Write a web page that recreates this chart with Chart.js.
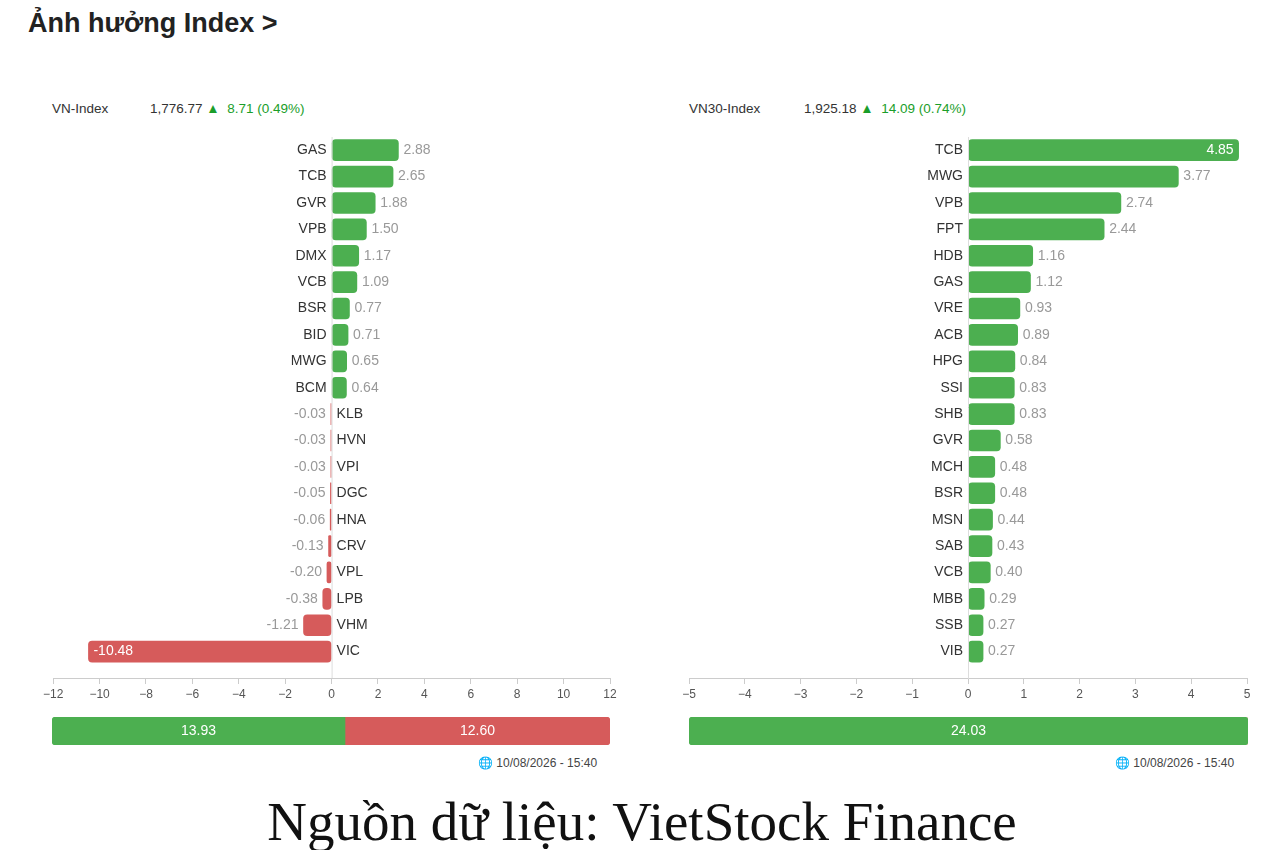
<!DOCTYPE html>
<html>
<head>
<meta charset="utf-8">
<script src="https://cdn.jsdelivr.net/npm/chart.js@4"></script>
<style>
  body { margin: 0; background: #fff; font-family: "Liberation Sans", Arial, sans-serif; }
  .abs { position: absolute; }
  h1 { position: absolute; left: 28px; top: 8px; margin: 0; font-size: 27px; font-weight: bold; color: #222; }
  .hdr { font-size: 13.5px; color: #333; }
  .up { color: #1a9e2a; }
  .stamp { font-size: 12px; color: #444; }
  .caption { position: absolute; left: 0; width: 1284px; top: 790px; text-align: center;
    font-family: "Liberation Serif", "Times New Roman", serif; font-size: 55px; color: #111; }
</style>
</head>
<body>
<h1>Ảnh hưởng Index &gt;</h1>

<div class="abs hdr" style="left:52px;top:101px">VN-Index</div>
<div class="abs hdr" style="left:150px;top:101px">1,776.77 <span class="up">▲</span>&nbsp; <span class="up">8.71 (0.49%)</span></div>
<div class="abs hdr" style="left:689px;top:101px">VN30-Index</div>
<div class="abs hdr" style="left:804px;top:101px">1,925.18 <span class="up">▲</span>&nbsp; <span class="up">14.09 (0.74%)</span></div>

<div class="abs" style="left:40px;top:137px;width:582px;height:571px"><canvas id="left"></canvas></div>
<div class="abs" style="left:677px;top:137px;width:582px;height:571px"><canvas id="right"></canvas></div>

<div class="abs" style="left:52px;top:717px;width:558px;height:28px"><canvas id="sumLeft"></canvas></div>
<div class="abs" style="left:689px;top:717px;width:559px;height:28px"><canvas id="sumRight"></canvas></div>

<div class="abs stamp" style="left:478px;top:756px">🌐 10/08/2026 - 15:40</div>
<div class="abs stamp" style="left:1115px;top:756px">🌐 10/08/2026 - 15:40</div>

<div class="caption">Nguồn dữ liệu: VietStock Finance</div>

<script>
const vnTickers = ['GAS','TCB','GVR','VPB','DMX','VCB','BSR','BID','MWG','BCM','KLB','HVN','VPI','DGC','HNA','CRV','VPL','LPB','VHM','VIC'];
const vnValues = [2.88, 2.65, 1.88, 1.50, 1.17, 1.09, 0.77, 0.71, 0.65, 0.64, -0.03, -0.03, -0.03, -0.05, -0.06, -0.13, -0.20, -0.38, -1.21, -10.48];
const vn30Tickers = ['TCB','MWG','VPB','FPT','HDB','GAS','VRE','ACB','HPG','SSI','SHB','GVR','MCH','BSR','MSN','SAB','VCB','MBB','SSB','VIB'];
const vn30Values = [4.85, 3.77, 2.74, 2.44, 1.16, 1.12, 0.93, 0.89, 0.84, 0.83, 0.83, 0.58, 0.48, 0.48, 0.44, 0.43, 0.40, 0.29, 0.27, 0.27];
const vnSummary = [13.93, 12.60];   // positive, negative
const vn30Summary = [24.03, 0];

const GREEN = '#4caf50', RED = '#d65b5b';
const FONT = '"Liberation Sans", Arial, sans-serif';

// draws ticker and value labels next to each bar
const labelPlugin = {
  id: 'barLabels',
  afterDatasetsDraw(chart) {
    const ctx = chart.ctx;
    const meta = chart.getDatasetMeta(0);
    const tickers = chart.data.datasets[0].tickers;
    const zero = chart.scales.x.getPixelForValue(0);
    const area = chart.chartArea;
    ctx.save();
    ctx.strokeStyle = '#ddd';
    ctx.lineWidth = 1;
    ctx.beginPath(); ctx.moveTo(zero + 0.5, area.top); ctx.lineTo(zero + 0.5, area.bottom); ctx.stroke();
    ctx.font = '14px ' + FONT;
    ctx.textBaseline = 'middle';
    meta.data.forEach((bar, i) => {
      const v = chart.data.datasets[0].data[i].x;
      const txt = v.toFixed(2);
      const w = ctx.measureText(txt).width;
      if (v >= 0) {
        ctx.fillStyle = '#333'; ctx.textAlign = 'right';
        ctx.fillText(tickers[i], zero - 5, bar.y);
        if (bar.x + 6 + w > area.right) {
          ctx.fillStyle = '#fff'; ctx.textAlign = 'right';
          ctx.fillText(txt, bar.x - 5, bar.y);
        } else {
          ctx.fillStyle = '#999'; ctx.textAlign = 'left';
          ctx.fillText(txt, bar.x + 5, bar.y);
        }
      } else {
        ctx.fillStyle = '#333'; ctx.textAlign = 'left';
        ctx.fillText(tickers[i], zero + 5, bar.y);
        if (zero - bar.x > w + 40) {
          ctx.fillStyle = '#fff'; ctx.textAlign = 'left';
          ctx.fillText(txt, bar.x + 5, bar.y);
        } else {
          ctx.fillStyle = '#999'; ctx.textAlign = 'right';
          ctx.fillText(txt, bar.x - 5, bar.y);
        }
      }
    });
    ctx.restore();
  }
};

function makeChart(id, tickers, values, lim) {
  new Chart(document.getElementById(id), {
    type: 'bar',
    data: {
      datasets: [{
        tickers: tickers,
        data: values.map((v, i) => ({ x: v, y: i })),
        backgroundColor: values.map(v => v >= 0 ? GREEN : RED),
        borderRadius: 4,
        borderSkipped: false,
        barThickness: 21
      }]
    },
    options: {
      indexAxis: 'y',
      responsive: true,
      maintainAspectRatio: false,
      animation: false,
      layout: { padding: { left: 12, right: 12, top: 0, bottom: 0 } },
      plugins: { legend: { display: false }, tooltip: { enabled: false } },
      scales: {
        y: { type: 'linear', reverse: true, min: -0.5, max: 20, offset: false, grace: 0, display: false },
        x: {
          min: -lim, max: lim,
          ticks: {
            stepSize: lim > 6 ? 2 : 1,
            color: '#555',
            font: { size: 12, family: FONT },
            callback: v => v < 0 ? '\u2212' + Math.abs(v) : String(v)
          },
          grid: { drawOnChartArea: false, drawTicks: true, tickLength: 6, color: '#ccc' },
          border: { display: true, color: '#ccc' },
          afterFit(scale) { scale.height = 30; }
        }
      }
    },
    plugins: [labelPlugin]
  });
}

makeChart('left', vnTickers, vnValues, 12);
makeChart('right', vn30Tickers, vn30Values, 5);

function makeSummary(id, vals) {
  const total = vals[0] + vals[1];
  const onlyOne = vals[1] === 0;
  new Chart(document.getElementById(id), {
    type: 'bar',
    data: {
      labels: [''],
      datasets: [
        { data: [vals[0]], backgroundColor: GREEN, borderSkipped: false,
          borderRadius: onlyOne ? 4 : { topLeft: 4, bottomLeft: 4, topRight: 0, bottomRight: 0 } },
        { data: [vals[1]], backgroundColor: RED, borderSkipped: false,
          borderRadius: { topLeft: 0, bottomLeft: 0, topRight: 4, bottomRight: 4 } }
      ]
    },
    options: {
      indexAxis: 'y',
      responsive: true,
      maintainAspectRatio: false,
      animation: false,
      layout: { padding: 0 },
      plugins: { legend: { display: false }, tooltip: { enabled: false } },
      datasets: { bar: { categoryPercentage: 1, barPercentage: 1 } },
      scales: {
        x: { stacked: true, min: 0, max: total, display: false },
        y: { stacked: true, display: false }
      }
    },
    plugins: [{
      afterDatasetsDraw(chart) {
        const ctx = chart.ctx;
        ctx.save();
        ctx.font = '14px ' + FONT;
        ctx.fillStyle = '#fff';
        ctx.textAlign = 'center';
        ctx.textBaseline = 'middle';
        chart.data.datasets.forEach((ds, d) => {
          const v = ds.data[0];
          if (!v) return;
          const bar = chart.getDatasetMeta(d).data[0];
          ctx.fillText(v.toFixed(2), (bar.x + bar.base) / 2, bar.y);
        });
        ctx.restore();
      }
    }]
  });
}

makeSummary('sumLeft', vnSummary);
makeSummary('sumRight', vn30Summary);
</script>
</body>
</html>
